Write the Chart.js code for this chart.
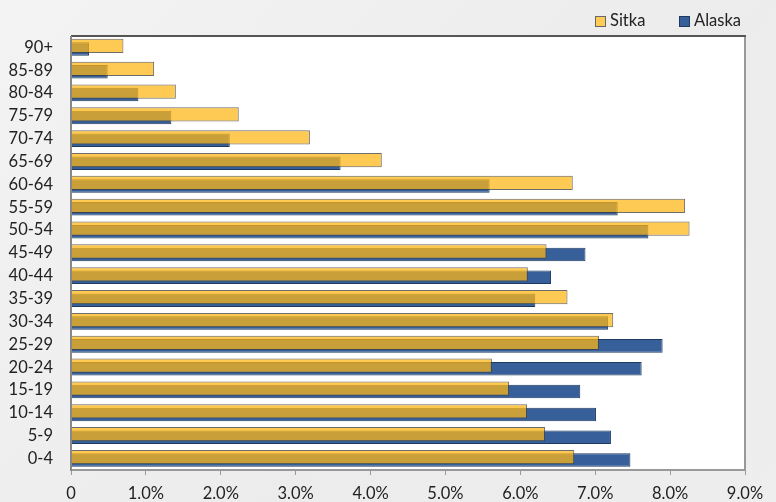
<!DOCTYPE html>
<html>
<head>
<meta charset="utf-8">
<script src="https://cdn.jsdelivr.net/npm/chart.js@4.4.1/dist/chart.umd.min.js"></script>
<style>
  html, body { margin: 0; padding: 0; }
  body { width: 776px; height: 502px; overflow: hidden;
         background: linear-gradient(135deg, #f3f3f3 0%, #ececec 60%, #eeeeee 100%);
         font-family: Lato, "Open Sans", sans-serif; }
  #wrap { position: relative; width: 776px; height: 502px; }
  canvas { position: absolute; left: 0; top: 0; }
  .legend { position: absolute; top: 11px; font-size: 16.5px; color: #222; line-height: 18px; }
  .legend span.box { display: inline-block; width: 9px; height: 9px; vertical-align: -1px; margin-right: 4px; }
</style>
</head>
<body>
<div id="wrap">
  <canvas id="c" width="776" height="502"></canvas>
  <div class="legend" style="left:595px;"><span class="box" style="background:#FFCC55;border:1px solid #666;"></span>Sitka</div>
  <div class="legend" style="left:679px;"><span class="box" style="background:#37609A;border:1px solid #1F3A5F;"></span>Alaska</div>
</div>
<script>
const categories = ["90+","85-89","80-84","75-79","70-74","65-69","60-64","55-59","50-54","45-49","40-44","35-39","30-34","25-29","20-24","15-19","10-14","5-9","0-4"];
const sitka  = [0.70, 1.11, 1.40, 2.24, 3.19, 4.15, 6.70, 8.20, 8.26, 6.35, 6.10, 6.63, 7.24, 7.05, 5.62, 5.85, 6.09, 6.33, 6.72];
const alaska = [0.24, 0.49, 0.90, 1.34, 2.12, 3.60, 5.59, 7.30, 7.71, 6.87, 6.41, 6.20, 7.17, 7.90, 7.62, 6.80, 7.01, 7.21, 7.47];
const xTicks = [0, 1, 2, 3, 4, 5, 6, 7, 8, 9];

const plotBg = {
  id: 'plotBg',
  beforeDraw(chart) {
    const {ctx, chartArea: a} = chart;
    ctx.save();
    ctx.fillStyle = '#ffffff';
    ctx.fillRect(a.left, a.top, a.right - a.left, a.bottom - a.top);
    ctx.restore();
  },
  afterDraw(chart) {
    const {ctx, chartArea: a} = chart;
    ctx.save();
    ctx.lineWidth = 2;
    ctx.strokeStyle = '#999';
    ctx.beginPath();
    ctx.moveTo(a.right, a.top); ctx.lineTo(a.right, a.bottom); ctx.lineTo(a.left, a.bottom);
    ctx.stroke();
    ctx.strokeStyle = '#555';
    ctx.beginPath();
    ctx.moveTo(a.left, a.top); ctx.lineTo(a.right + 1, a.top);
    ctx.stroke();
    ctx.strokeStyle = '#888';
    ctx.beginPath();
    ctx.moveTo(a.left, a.top); ctx.lineTo(a.left, a.bottom + 1);
    ctx.stroke();
    ctx.restore();
  }
};

new Chart(document.getElementById('c'), {
  type: 'bar',
  data: {
    labels: categories,
    datasets: [
      { label: 'Sitka', data: sitka, backgroundColor: 'rgba(255,182,20,0.73)',
        borderColor: 'rgba(60,60,60,0.75)', borderWidth: 1, barPercentage: 4.75, categoryPercentage: 0.263 },
      { label: 'Alaska', data: alaska, backgroundColor: '#37609A',
        borderColor: '#1F3A5F', borderWidth: 1, barPercentage: 4.5, categoryPercentage: 0.263 }
    ]
  },
  options: {
    indexAxis: 'y',
    responsive: false,
    animation: false,
    layout: { padding: { left: 0, right: 31, top: 36, bottom: 0 } },
    plugins: { legend: { display: false }, tooltip: { enabled: false } },
    scales: {
      x: {
        min: 0, max: 9,
        afterBuildTicks(scale) { scale.ticks = xTicks.map(v => ({ value: v })); },
        afterFit(scale) { scale.height = 32; },
        grid: { drawOnChartArea: false, tickColor: '#999', tickLength: 5, lineWidth: 1 },
        border: { display: false },
        ticks: {
          padding: 9,
          color: '#222',
          font: { family: 'Lato', size: 16.5 },
          maxRotation: 0,
          callback: v => v === 0 ? '0' : v.toFixed(1) + '%'
        }
      },
      y: {
        afterFit(scale) { scale.width = 71; },
        grid: { display: false, drawTicks: false },
        border: { display: false },
        ticks: { padding: 18, color: '#222', font: { family: 'Lato', size: 16.5 } }
      }
    }
  },
  plugins: [plotBg]
});
</script>
</body>
</html>
